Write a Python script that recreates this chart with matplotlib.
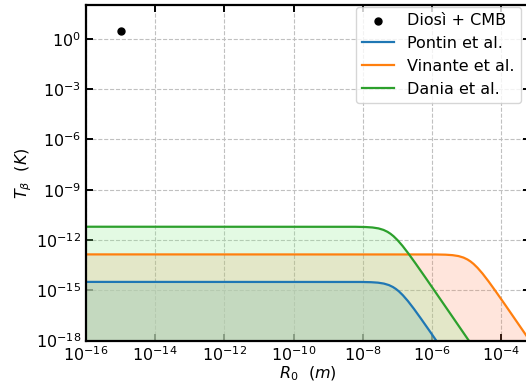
import numpy as np
import matplotlib
matplotlib.use("Agg")
import matplotlib.pyplot as plt
from matplotlib.ticker import NullLocator

# valores (log10 de R0 en m, log10 de T en K)
diosi_logR = [-15.0]
diosi_logT = [0.435]

pontin_logR = [-16.0, -8.055, -7.766, -7.563, -7.390, -7.245, -7.130, -7.043, -6.956,
               -6.841, -6.696, -6.523, -6.321, -6.031, -5.309]
pontin_logT = [-14.50, -14.504, -14.517, -14.545, -14.600, -14.690, -14.804, -14.921, -15.065,
               -15.297, -15.641, -16.105, -16.684, -17.539, -19.702]

vinante_logR = [-16.0, -5.899, -5.610, -5.407, -5.234, -5.089, -4.974, -4.887, -4.800,
                -4.685, -4.540, -4.367, -4.165, -3.875, -3.153]
vinante_logT = [-12.86, -12.864, -12.877, -12.905, -12.960, -13.050, -13.164, -13.281, -13.425,
                -13.657, -14.001, -14.465, -15.044, -15.899, -18.062]

dania_logR = [-16.0, -8.211, -7.922, -7.719, -7.546, -7.401, -7.286, -7.199, -7.112,
              -6.997, -6.852, -6.679, -6.477, -6.187, -5.465, -4.598]
dania_logT = [-11.21, -11.214, -11.227, -11.255, -11.310, -11.400, -11.514, -11.631, -11.775,
              -12.007, -12.351, -12.815, -13.394, -14.249, -16.412, -19.016]

xticks = [-16, -14, -12, -10, -8, -6, -4]
yticks = [0, -3, -6, -9, -12, -15, -18]

fig = plt.figure(figsize=(5.26, 3.87), dpi=100)
ax = fig.add_axes([86/526, 1 - 340.6/387, 444/526, 335.4/387])

piso = 1e-18

R = 10**np.array(pontin_logR)
T = 10**np.array(pontin_logT)
ax.fill_between(R, T, piso, color="lightblue", alpha=0.6, linewidth=0)
ax.plot(R, T, color="C0", lw=1.6, label="Pontin et al.")

R = 10**np.array(vinante_logR)
T = 10**np.array(vinante_logT)
ax.fill_between(R, T, piso, color="coral", alpha=0.2, linewidth=0)
ax.plot(R, T, color="C1", lw=1.6, label="Vinante et al.")

R = 10**np.array(dania_logR)
T = 10**np.array(dania_logT)
ax.fill_between(R, T, piso, color="lightgreen", alpha=0.25, linewidth=0)
ax.plot(R, T, color="C2", lw=1.6, label="Dania et al.")

ax.scatter(10**np.array(diosi_logR), 10**np.array(diosi_logT), s=25, color="black",
           zorder=5, label="Diosì + CMB")

ax.set_xscale("log")
ax.set_yscale("log")
ax.set_xlim(1e-16, 10**(-16 + 444/34.6))
ax.set_ylim(1e-18, 1e2)
ax.set_xticks([10.0**k for k in xticks])
ax.set_yticks([10.0**k for k in yticks])
ax.xaxis.set_minor_locator(NullLocator())
ax.yaxis.set_minor_locator(NullLocator())
ax.tick_params(which="both", direction="in", top=True, right=True, labelsize=11.5,
               width=1.4, length=5)
for s in ax.spines.values():
    s.set_linewidth(1.6)
ax.grid(True, linestyle="--", color="#c0c0c0", linewidth=0.8)
ax.set_axisbelow(True)

ax.set_xlabel(r"$R_0\ \ (m)$", fontsize=11.5, labelpad=0)
ax.set_ylabel(r"$T_\beta\ \ (K)$", fontsize=11.5, labelpad=1)

handles, labels = ax.get_legend_handles_labels()
orden = [3, 0, 1, 2]
ax.legend([handles[i] for i in orden], [labels[i] for i in orden], fontsize=11.5,
          loc="upper right", bbox_to_anchor=(521/526, 1 - 6.7/387),
          bbox_transform=fig.transFigure, borderaxespad=0)

fig.savefig("out.png", dpi=100)
